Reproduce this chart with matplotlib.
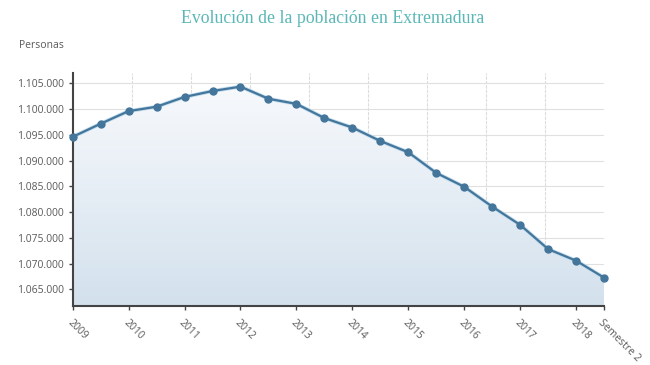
import numpy as np
import matplotlib
matplotlib.use("Agg")
import matplotlib.pyplot as plt
from matplotlib.ticker import FuncFormatter

# population by semester
poblacion = [1094600, 1097150, 1099600, 1100450, 1102350, 1103500, 1104350,
             1102000, 1101000, 1098250, 1096400, 1093800, 1091600, 1087600,
             1084900, 1081050, 1077500, 1072800, 1070550, 1067250]
etiquetas = ["2009", "2010", "2011", "2012", "2013", "2014", "2015",
             "2016", "2017", "2018", "Semestre 2"]
posiciones_etiquetas = [0, 2, 4, 6, 8, 10, 12, 14, 16, 18, 19]
y_ticks = [1065000, 1070000, 1075000, 1080000, 1085000, 1090000,
           1095000, 1100000, 1105000]

line_color = "#44759a"
text_color = "#5a5a5a"

fig = plt.figure(figsize=(6.5, 3.65), dpi=100)
ax = fig.add_axes([0.1118, 0.1616, 0.8175, 0.6384])

x = np.arange(len(poblacion))
ymin, ymax = 1061750, 1107000

# gradient fill under the line
poly = ax.fill_between(x, poblacion, ymin, color="none")
grad = np.linspace(0, 1, 256).reshape(-1, 1)
cmap = matplotlib.colors.LinearSegmentedColormap.from_list(
    "g", ["#d3e1ed", "#f7f9fc"])
im = ax.imshow(grad, cmap=cmap, aspect="auto", origin="lower",
               extent=[0, 19, ymin, 1104350], zorder=1)
path = poly.get_paths()[0]
im.set_clip_path(path, transform=ax.transData)

# light halo under the line, then the line itself
ax.plot(x, poblacion, color="#c2ddee", lw=2.8, zorder=3, clip_on=False)
ax.plot(x, poblacion, color=line_color, lw=1.6, marker="o", ms=5,
        zorder=4, clip_on=False)

ax.set_xlim(0, 19)
ax.set_ylim(ymin, ymax)

ax.set_yticks(y_ticks)
ax.yaxis.set_major_formatter(FuncFormatter(lambda v, p: f"{int(v):,}".replace(",", ".")))
ax.set_xticks(posiciones_etiquetas)
ax.set_xticklabels(etiquetas, rotation=-45, ha="left", va="top",
                   rotation_mode="anchor")
ax.set_xticks(np.linspace(0, 19, 10), minor=True)

ax.grid(axis="y", which="major", color="#e0e0e0", lw=0.8, zorder=0)
ax.grid(axis="x", which="minor", color="#dcdcdc", lw=0.8, ls=(0, (3, 1)), zorder=0)
ax.set_axisbelow(True)

ax.tick_params(axis="both", which="major", labelsize=7.5, colors="#444",
               labelcolor=text_color, length=3, width=1)
ax.tick_params(axis="x", which="major", pad=5)
ax.tick_params(axis="x", which="minor", length=0)
for lab in ax.get_xticklabels() + ax.get_yticklabels():
    lab.set_fontfamily("Open Sans")

for s in ["top", "right"]:
    ax.spines[s].set_visible(False)
for s in ["left", "bottom"]:
    ax.spines[s].set_color("#444")
    ax.spines[s].set_linewidth(1.5)

fig.text(0.512, 0.95, "Evolución de la población en Extremadura", ha="center",
         va="center", fontsize=12.8, color="#5bb7b7", family="Liberation Serif")
fig.text(0.03, 0.875, "Personas", ha="left", va="center", fontsize=7.5,
         color=text_color, family="Open Sans")

fig.savefig("out.png", dpi=100, facecolor="white")
